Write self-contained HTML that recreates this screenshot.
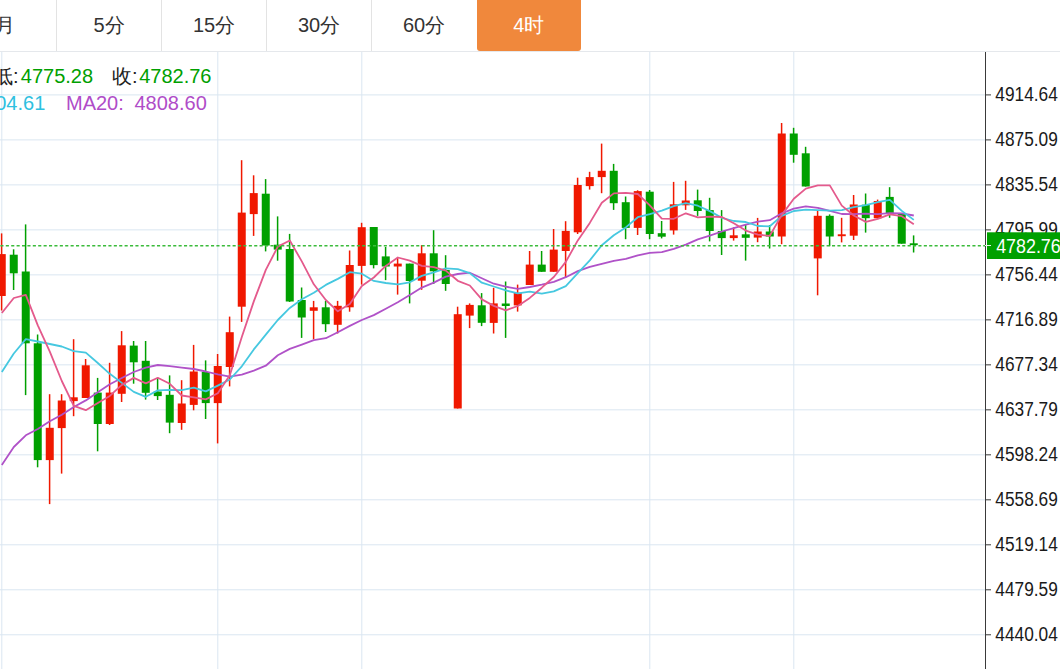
<!DOCTYPE html>
<html><head><meta charset="utf-8">
<style>
html,body{margin:0;padding:0;background:#fff;width:1060px;height:669px;overflow:hidden;}
body{position:relative;font-family:"Liberation Sans",sans-serif;}
.tabs{position:absolute;left:0;top:0;width:1060px;height:51px;border-bottom:1px solid #E5E8EC;}
.tab{position:absolute;top:0;height:51px;color:#333;font-size:20px;line-height:51px;text-align:center;}
.sep{position:absolute;top:0;width:1px;height:51px;background:#E3E3E3;}
.act{position:absolute;left:476.5px;top:0;width:104.5px;height:51px;background:#F0883C;border-radius:0 0 3px 3px;color:#fff;font-size:20px;line-height:51px;text-align:center;}
svg{position:absolute;left:0;top:0;}
.ax{font-family:"Liberation Sans",sans-serif;font-size:19.3px;fill:#1a1a1a;}
.lg{position:absolute;font-size:20px;white-space:nowrap;line-height:20px;}
</style></head><body>
<svg width="1060" height="669" viewBox="0 0 1060 669">
<rect x="0" y="94.40" width="985" height="1" fill="#DAE6F1"/>
<rect x="0" y="139.39" width="985" height="1" fill="#DAE6F1"/>
<rect x="0" y="184.38" width="985" height="1" fill="#DAE6F1"/>
<rect x="0" y="229.37" width="985" height="1" fill="#DAE6F1"/>
<rect x="0" y="274.36" width="985" height="1" fill="#DAE6F1"/>
<rect x="0" y="319.35" width="985" height="1" fill="#DAE6F1"/>
<rect x="0" y="364.34" width="985" height="1" fill="#DAE6F1"/>
<rect x="0" y="409.33" width="985" height="1" fill="#DAE6F1"/>
<rect x="0" y="454.32" width="985" height="1" fill="#DAE6F1"/>
<rect x="0" y="499.31" width="985" height="1" fill="#DAE6F1"/>
<rect x="0" y="544.30" width="985" height="1" fill="#DAE6F1"/>
<rect x="0" y="589.29" width="985" height="1" fill="#DAE6F1"/>
<rect x="0" y="634.28" width="985" height="1" fill="#DAE6F1"/>
<rect x="1.3" y="52" width="1" height="617" fill="#DAE6F1"/>
<rect x="217.3" y="52" width="1" height="617" fill="#DAE6F1"/>
<rect x="361.3" y="52" width="1" height="617" fill="#DAE6F1"/>
<rect x="649.3" y="52" width="1" height="617" fill="#DAE6F1"/>
<rect x="793.3" y="52" width="1" height="617" fill="#DAE6F1"/>
<rect x="0.85" y="233.4" width="1.5" height="77.1" fill="#F01800"/>
<rect x="-2.25" y="254.1" width="8" height="41.9" fill="#F01800"/>
<rect x="12.85" y="249.3" width="1.5" height="40.7" fill="#00A000"/>
<rect x="9.75" y="254.7" width="8" height="18.6" fill="#00A000"/>
<rect x="24.85" y="224.4" width="1.5" height="170.7" fill="#00A000"/>
<rect x="21.75" y="271.5" width="8" height="71.8" fill="#00A000"/>
<rect x="36.85" y="334.5" width="1.5" height="132.8" fill="#00A000"/>
<rect x="33.75" y="343.3" width="8" height="116.8" fill="#00A000"/>
<rect x="48.85" y="394.2" width="1.5" height="109.9" fill="#F01800"/>
<rect x="45.75" y="427.8" width="8" height="32.3" fill="#F01800"/>
<rect x="60.85" y="394.2" width="1.5" height="79.4" fill="#F01800"/>
<rect x="57.75" y="400.5" width="8" height="27.6" fill="#F01800"/>
<rect x="72.85" y="339.2" width="1.5" height="77.0" fill="#F01800"/>
<rect x="69.75" y="397.3" width="8" height="3.8" fill="#F01800"/>
<rect x="84.85" y="359.0" width="1.5" height="39.0" fill="#F01800"/>
<rect x="81.75" y="365.3" width="8" height="32.7" fill="#F01800"/>
<rect x="96.85" y="377.9" width="1.5" height="73.4" fill="#00A000"/>
<rect x="93.75" y="392.6" width="8" height="31.4" fill="#00A000"/>
<rect x="108.85" y="362.8" width="1.5" height="62.2" fill="#F01800"/>
<rect x="105.75" y="392.6" width="8" height="31.4" fill="#F01800"/>
<rect x="120.85" y="331.1" width="1.5" height="70.9" fill="#F01800"/>
<rect x="117.75" y="345.3" width="8" height="48.5" fill="#F01800"/>
<rect x="132.85" y="341.0" width="1.5" height="42.7" fill="#00A000"/>
<rect x="129.75" y="345.6" width="8" height="16.7" fill="#00A000"/>
<rect x="144.85" y="341.0" width="1.5" height="58.6" fill="#00A000"/>
<rect x="141.75" y="360.8" width="8" height="32.0" fill="#00A000"/>
<rect x="156.85" y="377.9" width="1.5" height="22.1" fill="#00A000"/>
<rect x="153.75" y="391.5" width="8" height="4.6" fill="#00A000"/>
<rect x="168.85" y="375.4" width="1.5" height="57.8" fill="#00A000"/>
<rect x="165.75" y="394.8" width="8" height="27.8" fill="#00A000"/>
<rect x="180.85" y="380.2" width="1.5" height="49.6" fill="#F01800"/>
<rect x="177.75" y="403.5" width="8" height="19.5" fill="#F01800"/>
<rect x="192.85" y="344.9" width="1.5" height="65.4" fill="#F01800"/>
<rect x="189.75" y="371.5" width="8" height="33.4" fill="#F01800"/>
<rect x="204.85" y="360.4" width="1.5" height="58.6" fill="#00A000"/>
<rect x="201.75" y="372.0" width="8" height="31.1" fill="#00A000"/>
<rect x="216.85" y="354.0" width="1.5" height="89.4" fill="#F01800"/>
<rect x="213.75" y="366.0" width="8" height="37.1" fill="#F01800"/>
<rect x="228.85" y="316.6" width="1.5" height="69.8" fill="#F01800"/>
<rect x="225.75" y="332.2" width="8" height="34.8" fill="#F01800"/>
<rect x="240.85" y="160.2" width="1.5" height="161.7" fill="#F01800"/>
<rect x="237.75" y="212.6" width="8" height="94.1" fill="#F01800"/>
<rect x="252.85" y="175.3" width="1.5" height="60.6" fill="#F01800"/>
<rect x="249.75" y="193.1" width="8" height="21.0" fill="#F01800"/>
<rect x="264.85" y="179.1" width="1.5" height="72.3" fill="#00A000"/>
<rect x="261.75" y="193.7" width="8" height="51.8" fill="#00A000"/>
<rect x="276.85" y="216.4" width="1.5" height="44.3" fill="#00A000"/>
<rect x="273.75" y="244.7" width="8" height="4.9" fill="#00A000"/>
<rect x="288.85" y="233.9" width="1.5" height="68.1" fill="#00A000"/>
<rect x="285.75" y="249.0" width="8" height="52.5" fill="#00A000"/>
<rect x="300.85" y="287.5" width="1.5" height="50.4" fill="#00A000"/>
<rect x="297.75" y="300.0" width="8" height="17.5" fill="#00A000"/>
<rect x="312.85" y="300.9" width="1.5" height="38.4" fill="#F01800"/>
<rect x="309.75" y="307.3" width="8" height="3.5" fill="#F01800"/>
<rect x="324.85" y="300.9" width="1.5" height="31.1" fill="#00A000"/>
<rect x="321.75" y="307.3" width="8" height="16.9" fill="#00A000"/>
<rect x="336.85" y="300.9" width="1.5" height="32.6" fill="#F01800"/>
<rect x="333.75" y="305.8" width="8" height="19.0" fill="#F01800"/>
<rect x="348.85" y="250.5" width="1.5" height="61.2" fill="#F01800"/>
<rect x="345.75" y="265.0" width="8" height="42.3" fill="#F01800"/>
<rect x="360.85" y="222.8" width="1.5" height="61.8" fill="#F01800"/>
<rect x="357.75" y="227.2" width="8" height="38.7" fill="#F01800"/>
<rect x="372.85" y="227.0" width="1.5" height="41.4" fill="#00A000"/>
<rect x="369.75" y="227.0" width="8" height="38.1" fill="#00A000"/>
<rect x="384.85" y="247.0" width="1.5" height="33.1" fill="#00A000"/>
<rect x="381.75" y="256.4" width="8" height="10.1" fill="#00A000"/>
<rect x="396.85" y="257.7" width="1.5" height="36.9" fill="#F01800"/>
<rect x="393.75" y="263.6" width="8" height="2.9" fill="#F01800"/>
<rect x="408.85" y="263.6" width="1.5" height="39.8" fill="#00A000"/>
<rect x="405.75" y="263.6" width="8" height="17.4" fill="#00A000"/>
<rect x="420.85" y="245.1" width="1.5" height="44.7" fill="#F01800"/>
<rect x="417.75" y="253.3" width="8" height="27.4" fill="#F01800"/>
<rect x="432.85" y="230.2" width="1.5" height="53.8" fill="#00A000"/>
<rect x="429.75" y="253.3" width="8" height="18.0" fill="#00A000"/>
<rect x="444.85" y="255.2" width="1.5" height="35.6" fill="#00A000"/>
<rect x="441.75" y="270.0" width="8" height="14.0" fill="#00A000"/>
<rect x="456.85" y="306.7" width="1.5" height="101.8" fill="#F01800"/>
<rect x="453.75" y="314.2" width="8" height="94.3" fill="#F01800"/>
<rect x="468.85" y="303.4" width="1.5" height="24.7" fill="#F01800"/>
<rect x="465.75" y="304.9" width="8" height="10.7" fill="#F01800"/>
<rect x="480.85" y="293.1" width="1.5" height="33.0" fill="#00A000"/>
<rect x="477.75" y="305.3" width="8" height="17.5" fill="#00A000"/>
<rect x="492.85" y="287.8" width="1.5" height="45.7" fill="#F01800"/>
<rect x="489.75" y="303.4" width="8" height="19.5" fill="#F01800"/>
<rect x="504.85" y="281.5" width="1.5" height="56.4" fill="#00A000"/>
<rect x="501.75" y="303.5" width="8" height="2.5" fill="#00A000"/>
<rect x="516.85" y="284.6" width="1.5" height="27.0" fill="#F01800"/>
<rect x="513.75" y="292.8" width="8" height="12.6" fill="#F01800"/>
<rect x="528.85" y="251.0" width="1.5" height="34.0" fill="#F01800"/>
<rect x="525.75" y="264.6" width="8" height="20.4" fill="#F01800"/>
<rect x="540.85" y="251.0" width="1.5" height="20.8" fill="#00A000"/>
<rect x="537.75" y="264.6" width="8" height="7.2" fill="#00A000"/>
<rect x="552.85" y="229.0" width="1.5" height="42.8" fill="#F01800"/>
<rect x="549.75" y="249.6" width="8" height="22.2" fill="#F01800"/>
<rect x="564.85" y="221.2" width="1.5" height="56.4" fill="#F01800"/>
<rect x="561.75" y="230.9" width="8" height="20.1" fill="#F01800"/>
<rect x="576.85" y="177.7" width="1.5" height="56.3" fill="#F01800"/>
<rect x="573.75" y="185.0" width="8" height="47.3" fill="#F01800"/>
<rect x="588.85" y="171.8" width="1.5" height="17.8" fill="#F01800"/>
<rect x="585.75" y="177.1" width="8" height="9.0" fill="#F01800"/>
<rect x="600.85" y="143.6" width="1.5" height="49.6" fill="#F01800"/>
<rect x="597.75" y="170.8" width="8" height="6.3" fill="#F01800"/>
<rect x="612.85" y="163.9" width="1.5" height="46.0" fill="#00A000"/>
<rect x="609.75" y="170.8" width="8" height="32.4" fill="#00A000"/>
<rect x="624.85" y="196.5" width="1.5" height="42.7" fill="#00A000"/>
<rect x="621.75" y="202.2" width="8" height="25.7" fill="#00A000"/>
<rect x="636.85" y="190.3" width="1.5" height="44.7" fill="#F01800"/>
<rect x="633.75" y="191.1" width="8" height="36.8" fill="#F01800"/>
<rect x="648.85" y="190.0" width="1.5" height="49.2" fill="#00A000"/>
<rect x="645.75" y="191.7" width="8" height="42.3" fill="#00A000"/>
<rect x="660.85" y="221.0" width="1.5" height="17.4" fill="#00A000"/>
<rect x="657.75" y="233.2" width="8" height="3.5" fill="#00A000"/>
<rect x="672.85" y="181.9" width="1.5" height="52.7" fill="#F01800"/>
<rect x="669.75" y="204.3" width="8" height="26.1" fill="#F01800"/>
<rect x="684.85" y="180.8" width="1.5" height="29.1" fill="#F01800"/>
<rect x="681.75" y="200.5" width="8" height="4.8" fill="#F01800"/>
<rect x="696.85" y="189.6" width="1.5" height="26.3" fill="#00A000"/>
<rect x="693.75" y="200.3" width="8" height="10.7" fill="#00A000"/>
<rect x="708.85" y="197.8" width="1.5" height="43.6" fill="#00A000"/>
<rect x="705.75" y="210.1" width="8" height="20.9" fill="#00A000"/>
<rect x="720.85" y="210.1" width="1.5" height="44.9" fill="#00A000"/>
<rect x="717.75" y="231.0" width="8" height="7.1" fill="#00A000"/>
<rect x="732.85" y="227.4" width="1.5" height="13.2" fill="#F01800"/>
<rect x="729.75" y="235.3" width="8" height="2.8" fill="#F01800"/>
<rect x="744.85" y="225.0" width="1.5" height="35.6" fill="#00A000"/>
<rect x="741.75" y="234.3" width="8" height="3.5" fill="#00A000"/>
<rect x="756.85" y="217.9" width="1.5" height="24.3" fill="#F01800"/>
<rect x="753.75" y="231.5" width="8" height="6.1" fill="#F01800"/>
<rect x="768.85" y="225.0" width="1.5" height="23.5" fill="#00A000"/>
<rect x="765.75" y="231.5" width="8" height="5.0" fill="#00A000"/>
<rect x="780.85" y="123.0" width="1.5" height="121.2" fill="#F01800"/>
<rect x="777.75" y="133.5" width="8" height="103.0" fill="#F01800"/>
<rect x="792.85" y="127.8" width="1.5" height="34.9" fill="#00A000"/>
<rect x="789.75" y="133.5" width="8" height="21.3" fill="#00A000"/>
<rect x="804.85" y="146.8" width="1.5" height="39.7" fill="#00A000"/>
<rect x="801.75" y="153.3" width="8" height="33.2" fill="#00A000"/>
<rect x="816.85" y="210.1" width="1.5" height="85.2" fill="#F01800"/>
<rect x="813.75" y="215.8" width="8" height="42.6" fill="#F01800"/>
<rect x="828.85" y="214.4" width="1.5" height="31.8" fill="#00A000"/>
<rect x="825.75" y="215.8" width="8" height="20.7" fill="#00A000"/>
<rect x="840.85" y="217.8" width="1.5" height="24.6" fill="#F01800"/>
<rect x="837.75" y="234.3" width="8" height="1.9" fill="#F01800"/>
<rect x="852.85" y="195.0" width="1.5" height="45.0" fill="#F01800"/>
<rect x="849.75" y="204.5" width="8" height="31.2" fill="#F01800"/>
<rect x="864.85" y="193.5" width="1.5" height="39.1" fill="#00A000"/>
<rect x="861.75" y="204.7" width="8" height="13.5" fill="#00A000"/>
<rect x="876.85" y="199.6" width="1.5" height="19.1" fill="#F01800"/>
<rect x="873.75" y="201.0" width="8" height="17.2" fill="#F01800"/>
<rect x="888.85" y="187.2" width="1.5" height="30.6" fill="#00A000"/>
<rect x="885.75" y="196.9" width="8" height="16.8" fill="#00A000"/>
<rect x="900.85" y="213.7" width="1.5" height="30.0" fill="#00A000"/>
<rect x="897.75" y="213.7" width="8" height="30.0" fill="#00A000"/>
<rect x="912.85" y="235.4" width="1.5" height="17.1" fill="#00A000"/>
<rect x="909.75" y="243.3" width="8" height="1.8" fill="#00A000"/>
<polyline points="1.8,465.0 13.8,447.0 25.8,435.3 37.8,429.0 49.8,421.3 61.8,414.7 73.8,407.0 85.8,400.4 97.8,392.3 109.8,384.2 121.8,378.0 133.8,372.0 145.8,367.6 157.8,365.0 169.8,366.2 181.8,367.6 193.8,369.0 205.8,371.5 217.8,374.4 229.8,376.7 241.8,374.6 253.8,370.6 265.8,365.7 277.8,355.2 289.8,348.9 301.8,344.7 313.8,340.2 325.8,338.2 337.8,332.3 349.8,325.9 361.8,320.0 373.8,315.1 385.8,308.8 397.8,302.2 409.8,295.1 421.8,287.6 433.8,282.6 445.8,276.6 457.8,274.0 469.8,272.7 481.8,278.2 493.8,283.7 505.8,286.7 517.8,288.9 529.8,287.0 541.8,284.7 553.8,281.9 565.8,277.2 577.8,271.1 589.8,266.8 601.8,263.9 613.8,260.8 625.8,258.9 637.8,255.3 649.8,252.9 661.8,252.1 673.8,248.8 685.8,244.6 697.8,239.4 709.8,235.7 721.8,231.5 733.8,228.1 745.8,224.7 757.8,221.6 769.8,220.2 781.8,213.3 793.8,208.6 805.8,206.3 817.8,207.9 829.8,210.8 841.8,214.0 853.8,214.1 865.8,213.6 877.8,214.1 889.8,213.1 901.8,213.4 913.8,215.5" fill="none" stroke="#B052C8" stroke-width="1.8" stroke-linejoin="round"/>
<polyline points="1.8,372.0 13.8,353.5 25.8,339.2 37.8,341.5 49.8,344.0 61.8,346.5 73.8,351.2 85.8,352.6 97.8,363.0 109.8,373.8 121.8,382.9 133.8,391.9 145.8,396.8 157.8,390.4 169.8,389.9 181.8,390.2 193.8,387.6 205.8,391.4 217.8,385.6 229.8,379.5 241.8,366.3 253.8,349.4 265.8,334.6 277.8,320.0 289.8,307.9 301.8,299.3 313.8,292.8 325.8,284.9 337.8,278.9 349.8,272.2 361.8,273.7 373.8,280.9 385.8,283.0 397.8,284.4 409.8,282.3 421.8,275.9 433.8,272.3 445.8,268.3 457.8,269.1 469.8,273.1 481.8,282.7 493.8,286.5 505.8,290.4 517.8,293.4 529.8,291.7 541.8,293.6 553.8,291.4 565.8,286.1 577.8,273.2 589.8,260.4 601.8,245.2 613.8,235.2 625.8,227.4 637.8,217.2 649.8,214.1 661.8,210.6 673.8,206.1 685.8,203.1 697.8,205.7 709.8,211.1 721.8,217.8 733.8,221.0 745.8,222.0 757.8,226.0 769.8,226.3 781.8,215.9 793.8,211.0 805.8,209.6 817.8,210.1 829.8,210.6 841.8,210.2 853.8,207.2 865.8,205.2 877.8,202.2 889.8,199.9 901.8,210.9 913.8,219.9" fill="none" stroke="#46C8E0" stroke-width="1.8" stroke-linejoin="round"/>
<polyline points="1.8,313.0 13.8,298.0 25.8,294.9 37.8,325.3 49.8,351.7 61.8,381.0 73.8,405.8 85.8,410.2 97.8,403.0 109.8,395.9 121.8,384.9 133.8,377.9 145.8,383.4 157.8,377.8 169.8,383.8 181.8,395.5 193.8,397.3 205.8,399.4 217.8,393.3 229.8,375.3 241.8,337.1 253.8,301.4 265.8,269.9 277.8,246.6 289.8,240.5 301.8,261.4 313.8,284.3 325.8,300.0 337.8,311.3 349.8,304.0 361.8,285.9 373.8,277.5 385.8,265.9 397.8,257.5 409.8,260.7 421.8,265.9 433.8,267.1 445.8,270.6 457.8,280.8 469.8,285.5 481.8,299.4 493.8,305.9 505.8,310.3 517.8,306.0 529.8,297.9 541.8,287.7 553.8,277.0 565.8,261.9 577.8,240.4 589.8,222.9 601.8,202.7 613.8,193.4 625.8,192.8 637.8,194.0 649.8,205.4 661.8,218.6 673.8,218.8 685.8,213.3 697.8,217.3 709.8,216.7 721.8,217.0 733.8,223.2 745.8,230.6 757.8,234.7 769.8,235.8 781.8,214.9 793.8,198.8 805.8,188.6 817.8,185.4 829.8,185.4 841.8,205.6 853.8,215.5 865.8,221.9 877.8,218.9 889.8,214.3 901.8,216.2 913.8,224.3" fill="none" stroke="#E45A8C" stroke-width="1.8" stroke-linejoin="round"/>
<line x1="0.4" y1="245.7" x2="985" y2="245.7" stroke="#3BBB3B" stroke-width="1.4" stroke-dasharray="3.1 2.3"/>
<rect x="985" y="52" width="1" height="617" fill="#3a3a3a"/>
<rect x="985" y="94.40" width="6" height="1" fill="#3a3a3a"/>
<text x="995.3" y="101.00" class="ax" textLength="62.5" lengthAdjust="spacingAndGlyphs">4914.64</text>
<rect x="985" y="139.39" width="6" height="1" fill="#3a3a3a"/>
<text x="995.3" y="145.99" class="ax" textLength="62.5" lengthAdjust="spacingAndGlyphs">4875.09</text>
<rect x="985" y="184.38" width="6" height="1" fill="#3a3a3a"/>
<text x="995.3" y="190.98" class="ax" textLength="62.5" lengthAdjust="spacingAndGlyphs">4835.54</text>
<rect x="985" y="229.37" width="6" height="1" fill="#3a3a3a"/>
<text x="995.3" y="235.97" class="ax" textLength="62.5" lengthAdjust="spacingAndGlyphs">4795.99</text>
<rect x="985" y="274.36" width="6" height="1" fill="#3a3a3a"/>
<text x="995.3" y="280.96" class="ax" textLength="62.5" lengthAdjust="spacingAndGlyphs">4756.44</text>
<rect x="985" y="319.35" width="6" height="1" fill="#3a3a3a"/>
<text x="995.3" y="325.95" class="ax" textLength="62.5" lengthAdjust="spacingAndGlyphs">4716.89</text>
<rect x="985" y="364.34" width="6" height="1" fill="#3a3a3a"/>
<text x="995.3" y="370.94" class="ax" textLength="62.5" lengthAdjust="spacingAndGlyphs">4677.34</text>
<rect x="985" y="409.33" width="6" height="1" fill="#3a3a3a"/>
<text x="995.3" y="415.93" class="ax" textLength="62.5" lengthAdjust="spacingAndGlyphs">4637.79</text>
<rect x="985" y="454.32" width="6" height="1" fill="#3a3a3a"/>
<text x="995.3" y="460.92" class="ax" textLength="62.5" lengthAdjust="spacingAndGlyphs">4598.24</text>
<rect x="985" y="499.31" width="6" height="1" fill="#3a3a3a"/>
<text x="995.3" y="505.91" class="ax" textLength="62.5" lengthAdjust="spacingAndGlyphs">4558.69</text>
<rect x="985" y="544.30" width="6" height="1" fill="#3a3a3a"/>
<text x="995.3" y="550.90" class="ax" textLength="62.5" lengthAdjust="spacingAndGlyphs">4519.14</text>
<rect x="985" y="589.29" width="6" height="1" fill="#3a3a3a"/>
<text x="995.3" y="595.89" class="ax" textLength="62.5" lengthAdjust="spacingAndGlyphs">4479.59</text>
<rect x="985" y="634.28" width="6" height="1" fill="#3a3a3a"/>
<text x="995.3" y="640.88" class="ax" textLength="62.5" lengthAdjust="spacingAndGlyphs">4440.04</text>
<rect x="987" y="232.3" width="80" height="26.7" fill="#00A000"/>
<rect x="985" y="245" width="6" height="1" fill="#e8f5e8"/>
<text x="996.2" y="253.3" class="ax" style="fill:#fff;font-size:19.5px" textLength="64.5" lengthAdjust="spacingAndGlyphs">4782.76</text>
</svg>
<div class="tabs">
<div class="tab" style="left:-48px;width:105px;text-align:right;"><span style="position:absolute;right:42px;">月</span></div>
<div class="sep" style="left:56px"></div>
<div class="tab" style="left:57px;width:104px">5分</div>
<div class="sep" style="left:161px"></div>
<div class="tab" style="left:162px;width:104px">15分</div>
<div class="sep" style="left:266px"></div>
<div class="tab" style="left:267px;width:104px">30分</div>
<div class="sep" style="left:371px"></div>
<div class="tab" style="left:372px;width:104px">60分</div>
<div class="act">4时</div>
</div>
<div class="lg" style="left:-7px;top:66px;color:#222">低:</div>
<div class="lg" style="left:20.8px;top:66px;color:#00A000">4775.28</div>
<div class="lg" style="left:112px;top:66px;color:#222">收:</div>
<div class="lg" style="left:139.2px;top:66px;color:#00A000">4782.76</div>
<div class="lg" style="left:-27px;top:93px;color:#2EC0E0">4804.61</div>
<div class="lg" style="left:66px;top:93px;color:#B04CC8">MA20:</div><div class="lg" style="left:134.5px;top:93px;color:#B04CC8">4808.60</div>
</body></html>
